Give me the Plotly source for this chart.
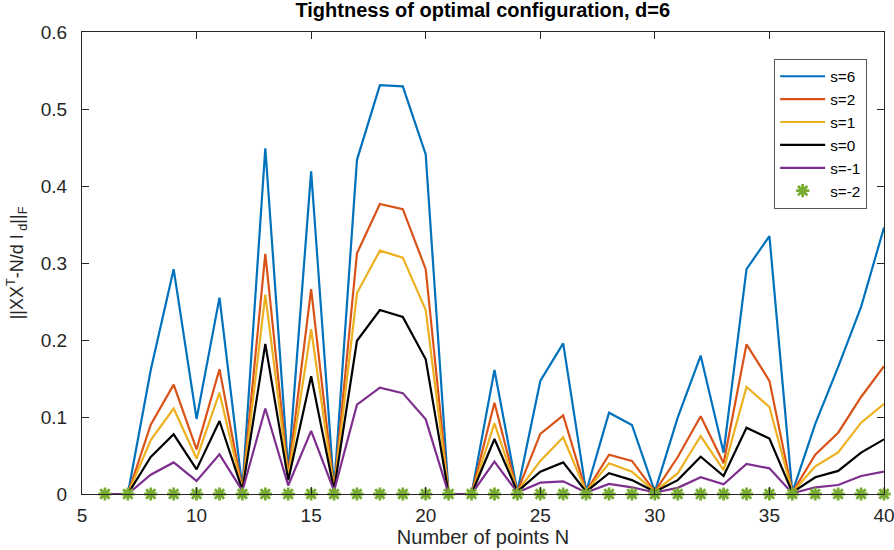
import plotly.graph_objects as go

N = list(range(6, 41))

s6 = [0, 0, 0.161, 0.292, 0.0975, 0.255, 0.007, 0.449, 0.03, 0.419, 0.006, 0.434,
      0.531, 0.5295, 0.441, 0, 0, 0.161, 0.003, 0.1468, 0.1957, 0.003, 0.1056, 0.0896,
      0.003, 0.0996, 0.1796, 0.0537, 0.292, 0.335, 0.002, 0.091, 0.165, 0.243, 0.346]
s2 = [0, 0, 0.09, 0.142, 0.058, 0.162, 0.006, 0.312, 0.025, 0.266, 0.005, 0.3125,
      0.3766, 0.37, 0.292, 0, 0, 0.1186, 0.003, 0.078, 0.102, 0.003, 0.051, 0.043,
      0.003, 0.048, 0.101, 0.040, 0.1944, 0.147, 0.002, 0.051, 0.0796, 0.126, 0.166]
s1 = [0, 0, 0.07, 0.111, 0.046, 0.1316, 0.005, 0.259, 0.022, 0.214, 0.005, 0.261,
      0.316, 0.307, 0.239, 0, 0, 0.0918, 0.003, 0.043, 0.0736, 0.003, 0.040, 0.029,
      0.003, 0.027, 0.0753, 0.031, 0.139, 0.113, 0.002, 0.036, 0.054, 0.0926, 0.117]
s0 = [0, 0, 0.048, 0.0775, 0.032, 0.0948, 0.005, 0.195, 0.018, 0.153, 0.005, 0.199,
      0.239, 0.230, 0.175, 0, 0, 0.0714, 0.003, 0.029, 0.041, 0.003, 0.027, 0.018,
      0.003, 0.018, 0.0485, 0.0234, 0.086, 0.072, 0.002, 0.0217, 0.030, 0.0537, 0.071]
sm1 = [0, 0, 0.025, 0.041, 0.017, 0.0515, 0.004, 0.111, 0.011, 0.082, 0.004, 0.116,
       0.138, 0.131, 0.097, 0, 0, 0.042, 0.002, 0.0147, 0.0165, 0.002, 0.013, 0.0087,
       0.002, 0.008, 0.0217, 0.0125, 0.039, 0.0333, 0.001, 0.0087, 0.0117, 0.0234, 0.029]
sm2 = [0] * len(N)

series_names = ["s=6", "s=2", "s=1", "s=0", "s=-1"]
series_vals = [s6, s2, s1, s0, sm1]
colors = ["#0072BD", "#D95319", "#EDB120", "#000000", "#7E2F8E"]

x_ticks = [5, 10, 15, 20, 25, 30, 35, 40]
y_ticks = [0, 0.1, 0.2, 0.3, 0.4, 0.5, 0.6]
y_ticktext = ["0", "0.1", "0.2", "0.3", "0.4", "0.5", "0.6"]

fig = go.Figure()
for name, vals, c in zip(series_names, series_vals, colors):
    fig.add_trace(go.Scatter(x=N, y=vals, mode="lines", name=name,
                             line=dict(color=c, width=2.2)))
fig.add_trace(go.Scatter(x=N, y=sm2, mode="markers", name="s=-2",
                         marker=dict(symbol="asterisk-open", size=11, color="#77AC30",
                                     line=dict(color="#77AC30", width=2.8)),
                         cliponaxis=False))

axis_common = dict(showline=True, linecolor="#262626", linewidth=1, mirror="ticks",
                   ticks="inside", ticklen=7, tickcolor="#262626", showgrid=False,
                   zeroline=False, automargin=False, ticklabeloverflow="allow",
                   tickfont=dict(family="Liberation Sans", size=19, color="#262626"))

fig.update_layout(
    width=894, height=550,
    margin=dict(l=82, r=10, t=32, b=56),
    plot_bgcolor="white", paper_bgcolor="white",
    title=dict(text="<b>Tightness of optimal configuration, d=6</b>", x=0.54, xanchor="center",
               y=0.994, yanchor="top",
               font=dict(family="Liberation Sans", size=20, color="black")),
    xaxis=dict(range=[5, 40], tickvals=x_ticks, ticklabelstandoff=4,
               title=dict(text="Number of points N", standoff=4,
                          font=dict(family="Liberation Sans", size=20, color="#262626")),
               **axis_common),
    yaxis=dict(range=[0, 0.6], tickvals=y_ticks, ticktext=y_ticktext, ticklabelstandoff=10,
               title=dict(text="||XX<sup>T</sup>-N/d I<sub> d</sub>||<sub>F</sub>", standoff=12,
                          font=dict(family="Liberation Sans", size=18, color="#262626")),
               **axis_common),
    legend=dict(x=0.979, xanchor="right", y=0.942, yanchor="top",
                bgcolor="white", bordercolor="#555555", borderwidth=1,
                font=dict(family="Liberation Sans", size=15.3, color="black"),
                tracegroupgap=0, itemwidth=45),
    showlegend=True,
)

# remove the default page margin so the figure sits at the window's top-left corner
fig.write_html("out.html", config={"displayModeBar": False},
               post_script="document.body.style.margin='0';")
